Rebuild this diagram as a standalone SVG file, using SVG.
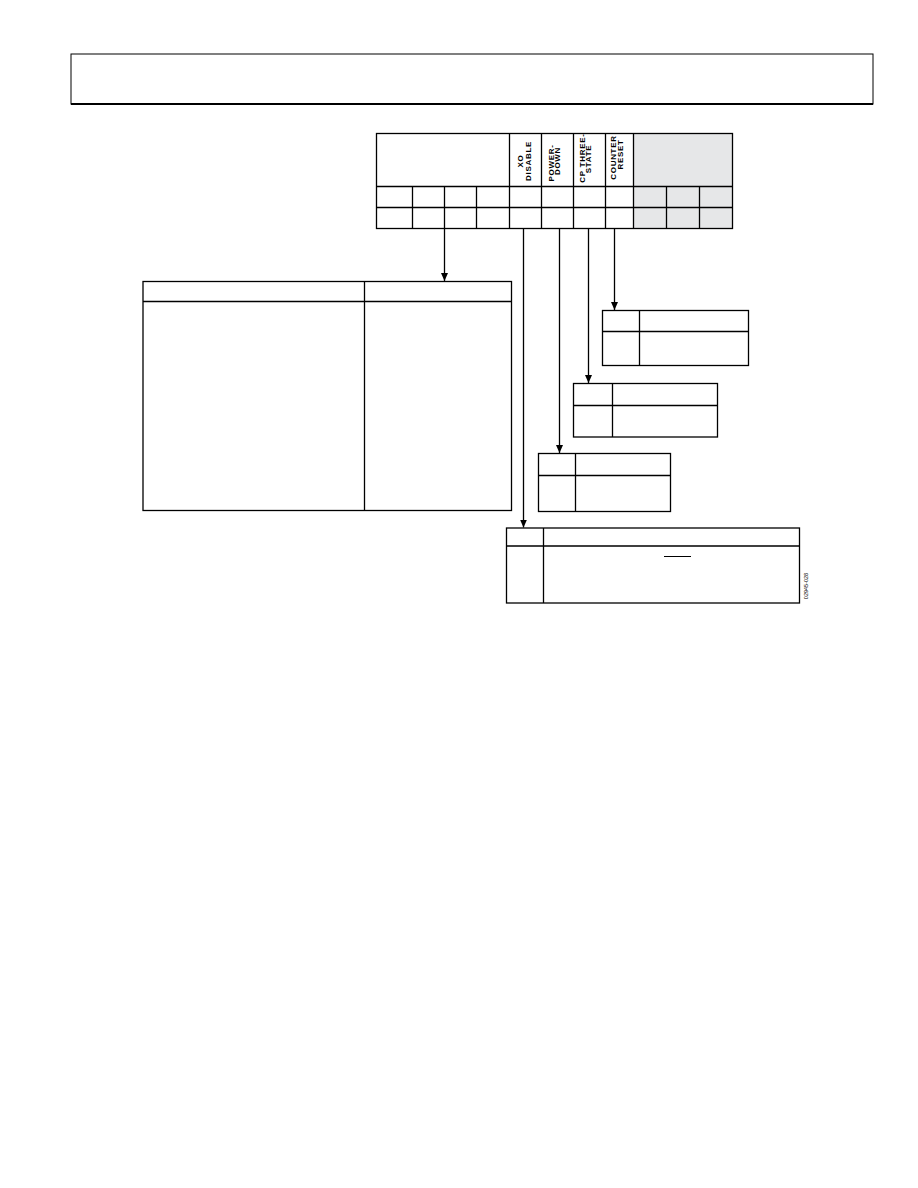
<svg xmlns="http://www.w3.org/2000/svg" width="918" height="1188" viewBox="0 0 918 1188">
<style>
.ln{fill:none;stroke:#000;stroke-width:1.3}
.box{fill:#fff;stroke:#000;stroke-width:1.3}
.gray{fill:#e6e7e8;stroke:none}
.lbl{font-family:"Liberation Sans",Arial,sans-serif;font-size:8px;font-weight:bold;letter-spacing:0.7px;fill:#000;text-anchor:middle}
.fid{font-family:"Liberation Sans",Arial,sans-serif;font-size:5.5px;fill:#000;text-anchor:middle}
</style>
<defs>
<marker id="arr" viewBox="0 0 8 8" refX="8" refY="4" markerWidth="8" markerHeight="8" markerUnits="userSpaceOnUse" orient="auto">
<path d="M0,0.5 L8,4 L0,7.5 Z" fill="#000"/>
</marker>
</defs>
<g id="page-header">
<rect x="71" y="54" width="802" height="50" fill="none" stroke="#000" stroke-width="1"/>
<line x1="71" y1="104" x2="873" y2="104" stroke="#000" stroke-width="2"/>
</g>
<g id="register">
<rect x="376.5" y="133.5" width="356" height="95" fill="#fff"/>
<rect class="gray" x="633.5" y="133.5" width="99" height="95"/>
<rect x="376.5" y="133.5" width="356" height="95" class="ln"/>
<path class="ln" d="M376.5,186.5H732.5M376.5,207.5H732.5M412.5,186.5V228.5M444.5,186.5V228.5M476.5,186.5V228.5M509.5,133.5V228.5M541.5,133.5V228.5M573.5,133.5V228.5M605.5,133.5V228.5M633.5,133.5V228.5M666.5,186.5V228.5M699.5,186.5V228.5"/>
<text class="lbl" transform="translate(523,161) rotate(-90)">XO</text>
<text class="lbl" transform="translate(531,161) rotate(-90)">DISABLE</text>
<text class="lbl" transform="translate(553.5,163) rotate(-90)">POWER-</text>
<text class="lbl" transform="translate(560,161) rotate(-90)">DOWN</text>
<text class="lbl" transform="translate(584.5,158) rotate(-90)">CP THREE-</text>
<text class="lbl" transform="translate(591,159) rotate(-90)">STATE</text>
<text class="lbl" transform="translate(616,157.5) rotate(-90)">COUNTER</text>
<text class="lbl" transform="translate(623,154.5) rotate(-90)">RESET</text>
</g>
<g id="table-main">
<rect class="box" x="143" y="281.5" width="368.5" height="229"/>
<path class="ln" d="M143,301.5H511.5M364.5,281.5V510.5"/>
</g>
<g id="table-counter-reset">
<rect class="box" x="602.5" y="310.5" width="146" height="55"/>
<path class="ln" d="M602.5,331.5H748.5M639.5,310.5V365.5"/>
</g>
<g id="table-cp-three-state">
<rect class="box" x="573.5" y="383.5" width="144" height="53.5"/>
<path class="ln" d="M573.5,405.5H717.5M612.5,383.5V437"/>
</g>
<g id="table-power-down">
<rect class="box" x="538.5" y="453.5" width="132" height="58"/>
<path class="ln" d="M538.5,475.5H670.5M575.5,453.5V511.5"/>
</g>
<g id="table-xo-disable">
<rect class="box" x="506.5" y="528" width="293" height="75"/>
<path class="ln" d="M506.5,546H799.5M543.5,528V603"/>
<line x1="664" y1="556.5" x2="691" y2="556.5" stroke="#000" stroke-width="1"/>
<text class="fid" transform="translate(808,586) rotate(-90)">02945-028</text>
</g>
<g id="connectors">
<line class="ln" x1="444.5" y1="228.5" x2="444.5" y2="281" marker-end="url(#arr)"/>
<line class="ln" x1="523.5" y1="228.5" x2="523.5" y2="527.5" marker-end="url(#arr)"/>
<line class="ln" x1="559.5" y1="228.5" x2="559.5" y2="453" marker-end="url(#arr)"/>
<line class="ln" x1="588.5" y1="228.5" x2="588.5" y2="383" marker-end="url(#arr)"/>
<line class="ln" x1="614.5" y1="228.5" x2="614.5" y2="310" marker-end="url(#arr)"/>
</g>
</svg>
